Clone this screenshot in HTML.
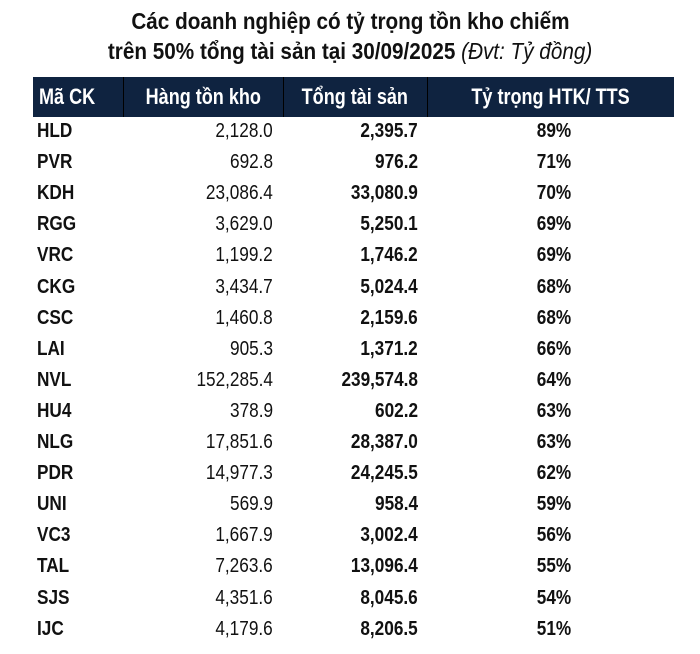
<!DOCTYPE html>
<html><head><meta charset="utf-8"><style>
body{margin:0;width:700px;height:654px;background:#fff;position:relative;overflow:hidden;font-family:"Liberation Sans",sans-serif;color:#111}
.t{position:absolute;left:0;width:700px;text-align:center;font-weight:bold;font-size:23px;line-height:30px;white-space:nowrap}
.t span{display:inline-block;transform:scaleX(0.9)}
.hd{position:absolute;left:33px;top:77px;width:641px;height:40px;background:#0f2340}
.sep{position:absolute;top:77px;width:1px;height:40px;background:#000}
.c{position:absolute;height:28px;line-height:28px;font-size:20px;white-space:nowrap}
.c span{display:inline-block;transform:scaleX(0.86)}
.l span{transform-origin:left center}
.r{text-align:right}.r span{transform-origin:right center}
.m{text-align:center}
.h{color:#fff;font-size:22px;top:83px;font-weight:bold}
.h span{transform:scaleX(0.82)}
.b{font-weight:bold}
</style></head><body>
<div class="t" style="top:6px"><span>Các doanh nghiệp có tỷ trọng tồn kho chiếm</span></div>
<div class="t" style="top:36px"><span>trên 50% tổng tài sản tại 30/09/2025 <i style="font-weight:normal">(Đvt: Tỷ đồng)</i></span></div>
<div class="hd"></div>
<div class="sep" style="left:123px"></div><div class="sep" style="left:283px"></div><div class="sep" style="left:427px"></div>
<div class="c h l" style="left:39px"><span>Mã CK</span></div>
<div class="c h m" style="left:123px;width:160px"><span>Hàng tồn kho</span></div>
<div class="c h m" style="left:283px;width:144px"><span>Tổng tài sản</span></div>
<div class="c h m" style="left:427px;width:247px"><span>Tỷ trọng HTK/ TTS</span></div>
<div id="rows"></div>
<script>
var d=[["HLD","2,128.0","2,395.7","89%"],["PVR","692.8","976.2","71%"],["KDH","23,086.4","33,080.9","70%"],["RGG","3,629.0","5,250.1","69%"],["VRC","1,199.2","1,746.2","69%"],["CKG","3,434.7","5,024.4","68%"],["CSC","1,460.8","2,159.6","68%"],["LAI","905.3","1,371.2","66%"],["NVL","152,285.4","239,574.8","64%"],["HU4","378.9","602.2","63%"],["NLG","17,851.6","28,387.0","63%"],["PDR","14,977.3","24,245.5","62%"],["UNI","569.9","958.4","59%"],["VC3","1,667.9","3,002.4","56%"],["TAL","7,263.6","13,096.4","55%"],["SJS","4,351.6","8,045.6","54%"],["IJC","4,179.6","8,206.5","51%"]];
var h="";
d.forEach(function(r,i){var t=(131+i*31.1-14).toFixed(1);
h+='<div class="c l b" style="left:37px;top:'+t+'px"><span>'+r[0]+'</span></div>'+
'<div class="c r" style="left:123px;width:150px;top:'+t+'px"><span>'+r[1]+'</span></div>'+
'<div class="c r b" style="left:283px;width:135px;top:'+t+'px"><span>'+r[2]+'</span></div>'+
'<div class="c m b" style="left:454px;width:200px;top:'+t+'px"><span>'+r[3]+'</span></div>';});
document.getElementById("rows").innerHTML=h;
</script>
</body></html>
